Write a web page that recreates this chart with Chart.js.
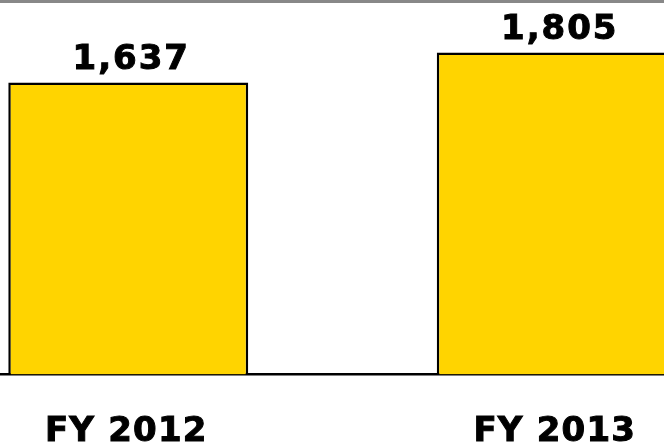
<!DOCTYPE html>
<html>
<head>
<meta charset="utf-8">
<script src="https://cdn.jsdelivr.net/npm/chart.js@4/dist/chart.umd.min.js"></script>
<style>
  html, body { margin: 0; padding: 0; background: #ffffff; overflow: hidden; }
  body { width: 664px; height: 447px; position: relative; }
  #topline { position: absolute; left: 0; top: 0; width: 664px; height: 3px; background: #888888; z-index: 2; }
  #wrap { position: absolute; left: -86px; top: 0; width: 857px; height: 447px; }
</style>
</head>
<body>
<div id="topline"></div>
<div id="wrap"><canvas id="c"></canvas></div>
<script>
const categories = ["FY 2012", "FY 2013"];
const values = [1637, 1805];
const valueLabels = ["1,637", "1,805"];
const yMax = 2100;

const FONT = '"DejaVu Sans", Verdana, sans-serif';

const spacingPlugin = {
  id: 'spacing',
  beforeDraw(chart) { chart.ctx.letterSpacing = '1.2px'; }
};

const valueLabelPlugin = {
  id: 'valueLabels',
  afterDatasetsDraw(chart) {
    const ctx = chart.ctx;
    const meta = chart.getDatasetMeta(0);
    ctx.save();
    ctx.letterSpacing = '2px';
    ctx.font = 'bold 34px ' + FONT;
    ctx.fillStyle = '#000000';
    ctx.strokeStyle = '#000000';
    ctx.lineWidth = 1;
    ctx.textAlign = 'center';
    ctx.textBaseline = 'alphabetic';
    meta.data.forEach((bar, i) => {
      ctx.fillText(valueLabels[i], bar.x + 3, bar.y - 14);
      ctx.strokeText(valueLabels[i], bar.x + 3, bar.y - 14);
    });
    ctx.restore();
  }
};

new Chart(document.getElementById('c'), {
  type: 'bar',
  data: {
    labels: categories,
    datasets: [{
      data: values,
      backgroundColor: '#FFD400',
      borderColor: '#000000',
      borderWidth: 2.5,
      borderSkipped: 'start',
      barPercentage: 1.0,
      categoryPercentage: 0.56
    }]
  },
  options: {
    responsive: true,
    maintainAspectRatio: false,
    animation: false,
    layout: { padding: 0 },
    plugins: { legend: { display: false }, tooltip: { enabled: false } },
    scales: {
      x: {
        grid: { display: false, drawTicks: false, tickLength: 0 },
        border: { display: true, color: '#000000', width: 2.5 },
        ticks: {
          color: '#000000',
          font: { family: FONT, size: 34, weight: 'bold' },
          textStrokeColor: '#000000',
          textStrokeWidth: 1,
          padding: 37,
          labelOffset: -2,
          maxRotation: 0
        },
        afterFit(scale) { scale.height = 72.5; }
      },
      y: {
        display: false,
        min: 0,
        max: yMax
      }
    }
  },
  plugins: [spacingPlugin, valueLabelPlugin]
});
</script>
</body>
</html>
